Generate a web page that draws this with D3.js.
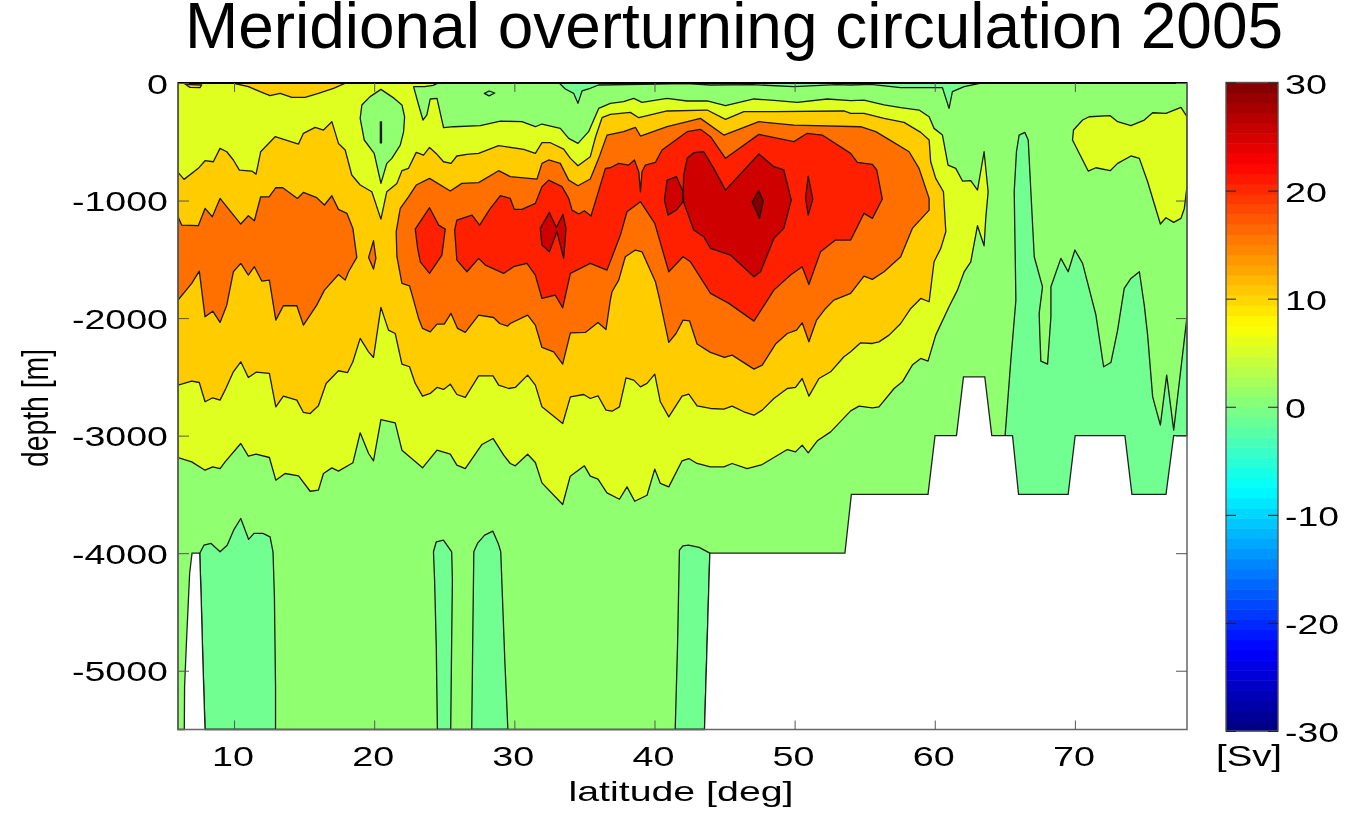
<!DOCTYPE html>
<html lang="en">
<head>
<meta charset="UTF-8">
<title>Meridional overturning circulation 2005</title>
<script src="https://d3js.org/d3.v7.min.js"></script>
<style>
  html, body { margin: 0; background: #fff; }
  svg { filter: blur(0.45px); }
  text { font-family: "Liberation Sans", Arial, sans-serif; fill: #000; }
</style>
</head>
<body>
<div id="chart"></div>
<script>
// every contour is [latitude in deg, depth in m]
var ocean = [[6,0],[78,0],[78,3000],[77.05,3000],[76.5,3500],[74.07,3500],[73.57,3000],[70.02,3000],[69.52,3500],[65.98,3500],[65.55,3000],[64.07,3000],[63.57,2500],[62.05,2500],[61.55,3000],[60.02,3000],[59.52,3500],[54.05,3500],[53.59,4000],[43.95,4000],[43.57,5500],[7.93,5500],[7.78,4939],[7.65,4371],[7.55,4000],[7,4000],[6.83,4173],[6.6,4768],[6.47,5137],[6.45,5500],[6,5500]];

// -5 Sv
var neg5Top = [[33.2,0],[33.64,51],[34.23,88],[34.54,173],[34.83,68],[35.3,51],[36,17],[42.3,6],[44,17],[47,14],[49.95,31],[53,14],[54,17],[55.43,11],[57.57,40],[59.7,40],[60.55,40],[61.02,216],[61.26,74],[62.1,31],[63.29,0]];
var neg5Dot = [[27.86,88],[28.2,68],[28.6,85],[28.2,110]];
var neg5Slit = [[20.44,330],[20.52,330],[20.52,510],[20.44,510]];
var neg5North = [[65.67,925],[65.83,585],[66.02,443],[66.43,420],[66.67,485],[66.86,925],[67.1,1478],[67.69,1734],[67.45,1960],[67.5,2145],[67.57,2366],[68.05,2392],[68.29,1989],[68.29,1734],[69,1492],[69.52,1606],[70,1421],[70.55,1535],[71.5,1974],[72.05,2414],[72.57,2378],[73.05,2102],[73.52,1748],[74,1663],[74.6,1606],[74.95,1890],[75.19,2145],[75.55,2670],[76.1,2911],[76.55,2485],[77.05,2953],[78,1989],[78,3600],[65.02,3600],[65.02,3000],[65.43,2358],[65.79,1847]];
var neg5Deep1 = [[7.55,4000],[7.85,3932],[8.36,3917],[9,3988],[9.51,3932],[9.97,3804],[10.48,3705],[11.04,3883],[11.42,3832],[12.06,3832],[12.57,3861],[12.78,3988],[12.88,4371],[12.96,5137],[12.96,5500],[7.93,5500],[7.78,4939],[7.65,4371]];
var neg5Deep2 = [[24.23,3988],[24.43,3903],[24.94,3889],[25.53,3988],[25.58,4230],[25.51,4939],[25.46,5500],[24.51,5500],[24.43,4797],[24.31,4230]];
var neg5Deep3 = [[27.11,3988],[27.37,3917],[27.88,3847],[28.47,3813],[28.85,3917],[29.03,3988],[29.15,4371],[29.33,4939],[29.54,5500],[26.96,5500],[27.04,4655]];
var neg5Deep4 = [[41.78,3974],[42.04,3937],[42.42,3932],[43.19,3951],[43.95,4000],[43.57,5500],[41.48,5500],[41.65,4768]];

// 5 Sv
var pos5Main = [[6,0],[24.6,0],[24.2,20],[23.6,30],[22.81,31],[23.17,187],[23.48,315],[23.76,272],[24,136],[24.48,131],[24.95,380],[25.67,372],[27.57,363],[29,324],[30.54,329],[31.5,372],[31.97,349],[33.28,386],[33.88,471],[34.54,514],[35.3,414],[36.02,216],[36.85,173],[37.8,159],[38.52,131],[39.11,165],[40.9,131],[42.33,153],[43.76,153],[45.07,193],[47.1,136],[48.52,148],[50.19,165],[52.33,136],[54,150],[54.95,145],[56.38,187],[57.57,210],[58.88,230],[59.6,287],[59.95,386],[60.55,443],[60.95,698],[61.5,726],[61.98,834],[62.57,831],[63.05,911],[63.52,585],[63.81,925],[63.64,1152],[63.52,1385],[63.05,1214],[62.57,1521],[62.1,1606],[61.62,1762],[61.02,1904],[60.07,2145],[59.52,2366],[59,2343],[58.4,2400],[57.69,2542],[57.1,2599],[56.02,2755],[55.55,2763],[54.6,2749],[54,2789],[52.57,2968],[51.62,3044],[50.97,3146],[50.54,3081],[50.07,3138],[49.48,3118],[47.69,3246],[46.61,3280],[45.54,3237],[44.95,3266],[43.99,3266],[43.04,3237],[42.45,3195],[41.97,3214],[41.02,3436],[40.42,3407],[40.02,3285],[39.47,3507],[38.59,3558],[38.04,3436],[37.5,3541],[36.61,3487],[35.97,3370],[35.42,3345],[35,3257],[33.99,3345],[33.45,3586],[31.97,3402],[31.5,3229],[30.95,3158],[30.07,3257],[29.71,3237],[29.24,3166],[28.48,3024],[27.69,3075],[26.5,3280],[25.9,3251],[25.43,3158],[24.48,3124],[23.45,3274],[21.98,3124],[21.5,2891],[20.48,2863],[19.95,3214],[19.6,3152],[19,2976],[18.48,3231],[17.45,3302],[16.98,3274],[16.38,3322],[16.02,3464],[15.43,3473],[14.6,3342],[13.64,3322],[12.98,3379],[12.52,3186],[11.57,3158],[11.02,3175],[10.48,3067],[9.36,3223],[9,3280],[8.48,3265],[7.93,3294],[6.98,3223],[6,3186]];
var pos5North = [[69.9,400],[70.55,315],[71.02,287],[72.52,278],[73.05,329],[74,363],[74.95,315],[75.55,253],[76.5,258],[77.57,207],[78,287],[78,882],[77.81,1067],[77.57,1152],[77.05,1186],[76.5,1146],[76.1,1200],[75.19,840],[74.6,641],[74,621],[73.05,684],[72.52,746],[71.5,721],[70.95,749],[69.83,485]];
// hole of the 5 Sv contour near 20N, back to 0..5 Sv
var pos5Hole = [[20.48,54],[21.43,131],[21.98,187],[22.17,287],[22.1,414],[21.86,528],[21.26,641],[20.9,684],[20.48,854],[20,599],[19.29,485],[19,301],[19.12,187],[19.71,116]];

// 10 Sv
var pos10Main = [[6,760],[6.43,820],[7.45,726],[7.93,661],[8.52,670],[9,556],[9.48,585],[9.95,655],[10.38,741],[11.26,749],[11.57,775],[11.9,585],[12.93,457],[14.6,519],[14.95,428],[15.79,377],[16.38,400],[16.98,329],[17.45,514],[17.93,570],[18.4,783],[19,868],[19.83,925],[20.48,1158],[20.9,925],[21.62,854],[21.98,746],[22.45,726],[23,590],[23.52,613],[23.95,548],[24.48,607],[24.95,670],[25.48,684],[25.9,621],[26.62,607],[27.45,599],[28.88,533],[30.67,565],[31.5,599],[31.97,508],[32.57,508],[33.52,562],[34,641],[34.54,704],[35.42,627],[35.8,457],[36.26,295],[36.85,267],[38.28,250],[38.88,295],[40.9,238],[43.76,230],[45.07,309],[46.38,244],[48.52,244],[53.52,238],[54,258],[54.95,258],[56.38,301],[57.81,335],[59,420],[59.6,485],[59.71,670],[60.07,811],[60.62,925],[60.79,1265],[60.43,1407],[59.95,1521],[59.6,1861],[59,1833],[58.29,1918],[57.57,2046],[56.74,2145],[56.02,2202],[55.55,2216],[54.71,2210],[54,2287],[53.52,2329],[52.57,2457],[51.74,2514],[51.02,2664],[50.54,2514],[50.07,2590],[49.48,2599],[48.52,2684],[47.69,2783],[47.1,2826],[46.38,2797],[45.54,2749],[44.95,2775],[44,2769],[43.04,2746],[42.45,2647],[41.97,2664],[41.02,2840],[40.42,2712],[40.02,2477],[39.47,2556],[39,2585],[38.52,2528],[37.97,2508],[37.5,2755],[36.97,2792],[36.54,2783],[35.97,2661],[35.42,2684],[34.95,2650],[34,2670],[33.45,2897],[31.97,2755],[31.5,2570],[30.95,2485],[30.07,2590],[29.6,2599],[28.88,2570],[28.48,2491],[27.45,2491],[26.5,2675],[25.9,2650],[25.43,2562],[24.95,2607],[24.48,2590],[24,2641],[23.45,2664],[22.93,2556],[22.52,2414],[21.98,2392],[21.5,2131],[21.02,2102],[20.48,1909],[19.95,2335],[19.6,2287],[19,2173],[18.48,2372],[18.1,2463],[17.45,2448],[16.57,2556],[16.02,2746],[15.43,2812],[14.95,2803],[14.48,2698],[13.52,2664],[12.98,2755],[12.52,2471],[11.57,2460],[11.02,2505],[10.48,2372],[9.95,2457],[9.36,2613],[9,2698],[8.48,2678],[7.93,2712],[7.52,2548],[6.98,2536],[6,2570]];
var pos10Surface = [[9.9,0],[11.02,31],[11.86,74],[12.57,108],[13.29,88],[14.12,122],[15.07,122],[16.02,88],[17.1,45],[17.98,0]];
var pos10Corner = [[6.5,11],[6.86,37],[7.57,40],[7.69,17]];

// 15 Sv
var pos15South = [[6,1138],[6.26,1209],[7.45,1214],[7.93,1067],[8.45,1138],[9,982],[10.48,1200],[11.02,1129],[11.45,1172],[11.9,968],[12.5,968],[12.98,891],[13.48,891],[14.52,982],[14.95,931],[15.9,976],[16.45,1038],[16.98,959],[17.45,1075],[18.05,1109],[18.48,1237],[18.76,1484],[18.17,1606],[17.93,1677],[17.45,1629],[16.45,1762],[15.9,1890],[14.95,2060],[14.48,1895],[13.52,1895],[12.98,2017],[12.52,1677],[11.98,1685],[11.45,1563],[11.02,1634],[10.48,1535],[9.95,1606],[9.48,1890],[9,2037],[8.48,1941],[7.93,1989],[7.52,1600],[6.98,1705],[6,1847]];
var pos15Dot = [[19.95,1342],[20.12,1492],[19.95,1583],[19.6,1484]];
var pos15Main = [[21.57,1265],[21.86,1067],[22.45,968],[23,868],[23.95,811],[25.43,919],[26.26,854],[27.45,848],[28.88,746],[29.71,797],[31.62,817],[31.97,684],[32.45,655],[33.28,684],[33.88,826],[34.54,874],[35.42,817],[36.02,641],[36.62,443],[37.8,414],[38.64,377],[39,451],[40.9,372],[43.28,301],[44.95,443],[47.45,329],[49.95,358],[54.71,372],[55.79,414],[56.98,499],[58.17,585],[58.88,726],[59.6,982],[59.6,1081],[58.4,1237],[57.57,1478],[56.38,1606],[55.55,1671],[54.95,1643],[54,1790],[52.8,1847],[52.21,1918],[51.57,2017],[51.02,2202],[50.54,2040],[50.14,2102],[49.48,2131],[48.64,2221],[47.69,2400],[47.1,2434],[45.54,2315],[44.99,2335],[43.99,2292],[43.04,2221],[42.5,2023],[42.04,2017],[41.54,2131],[41.02,2207],[40.38,1847],[40.07,1691],[39.11,1436],[38.64,1421],[37.92,1478],[37.45,1677],[36.97,1776],[36.85,1847],[36.54,2097],[35.97,2037],[35.07,2122],[34,2125],[33.45,2392],[32.81,2287],[31.97,2250],[31.5,2060],[30.95,1975],[29.71,2046],[29.52,2068],[28.95,2046],[28.52,1995],[27.45,1975],[26.5,2122],[25.95,2088],[25.48,1960],[25,2051],[24.48,2051],[24,2117],[23.45,2088],[23.17,2003],[22.81,1847],[22.52,1725],[21.98,1705],[21.62,1478]];

// 20 Sv
var pos20South = [[23.95,1061],[24.6,1209],[25.07,1243],[24.83,1464],[23.95,1620],[23.29,1521],[23.1,1407],[22.93,1243]];
var pos20Main = [[25.74,1251],[25.9,1166],[26.98,1124],[27.52,1209],[28.29,1067],[29,959],[29.71,982],[30,1075],[30.54,1075],[31.5,1024],[31.97,882],[32.45,826],[33.4,882],[33.88,982],[34.12,1081],[34.6,1115],[35,1087],[35.47,1132],[35.78,1010],[36.5,726],[36.85,721],[37.45,684],[38.16,698],[38.57,655],[38.88,755],[39,925],[39.11,755],[39.35,698],[40.07,675],[40.54,570],[42.33,414],[43.28,394],[44,457],[45.07,641],[47.45,437],[49.95,499],[50.9,428],[51.97,443],[54,599],[54.48,675],[55.55,692],[55.86,740],[56.26,987],[55.55,1152],[54.95,1109],[54,1336],[52.92,1336],[51.85,1436],[51.02,1714],[50.54,1563],[49.71,1634],[48.52,1762],[47.1,2026],[45.31,1875],[44,1790],[42.57,1521],[42.04,1478],[41.02,1606],[40.02,1194],[39,1010],[38.04,1095],[37.57,1294],[36.61,1592],[35.42,1535],[34,1620],[33.45,1912],[32.92,1804],[31.97,1833],[31.5,1634],[30.9,1535],[29.95,1563],[29.24,1620],[27.93,1549],[27.45,1492],[26.62,1606],[25.9,1507]];

// 25 Sv
var pos25West = [[32.5,1101],[33,1229],[33.47,1118],[33.69,1237],[33.52,1492],[33.04,1265],[32.5,1436],[31.97,1379],[31.85,1237]];
var pos25Lobe = [[40.9,826],[41.57,797],[42.04,925],[42,1016],[41.57,1081],[40.97,1124],[40.71,996]];
var pos25Heart = [[42.09,783],[42.33,641],[42.8,593],[43.52,585],[44.23,726],[45.07,911],[47.45,604],[48.52,712],[49.23,740],[49.76,996],[49.23,1237],[48.52,1322],[47.57,1606],[47.1,1648],[45.42,1464],[44,1407],[43.52,1308],[42.8,1251],[42.09,1016],[42.04,925]];
var pos25East = [[50.97,792],[51.3,987],[50.97,1124],[50.78,982]];

// 30 Sv
var pos30Core = [[47.45,916],[47.76,1004],[47.5,1152],[46.97,1010]];

var latTicks = [10, 20, 30, 40, 50, 60, 70];
var depthTicks = [0, 1000, 2000, 3000, 4000, 5000];
var colorTicks = [30, 20, 10, 0, -10, -20, -30];

var fillNeg5 = '#70ff90', fill0 = '#90ff70', fill5 = '#dfff20', fill10 = '#ffcc00',
    fill15 = '#ff7000', fill20 = '#ff2000', fill25 = '#cf0000', fill30 = '#800000';

// painted back to front, each level over the one before
var layers = [
  [neg5Top, fillNeg5], [neg5Dot, fillNeg5], [neg5North, fillNeg5], [neg5Deep1, fillNeg5],
  [neg5Deep2, fillNeg5], [neg5Deep3, fillNeg5], [neg5Deep4, fillNeg5],
  [pos5Main, fill5], [pos5North, fill5], [pos5Hole, fill0], [neg5Slit, fillNeg5],
  [pos10Main, fill10], [pos10Surface, fill10], [pos10Corner, fill10],
  [pos15South, fill15], [pos15Dot, fill15], [pos15Main, fill15],
  [pos20South, fill20], [pos20Main, fill20],
  [pos25West, fill25], [pos25Lobe, fill25], [pos25Heart, fill25], [pos25East, fill25],
  [pos30Core, fill30]
];

var width = 1370, height = 816;
var plotLeft = 178, plotRight = 1187, plotTop = 83, plotBottom = 729.5;

var svg = d3.select('#chart').append('svg')
  .attr('width', width).attr('height', height)
  .style('display', 'block');

var x = d3.scaleLinear().domain([6, 78]).range([plotLeft, plotRight]);
var y = d3.scaleLinear().domain([0, 5500]).range([plotTop, plotBottom]);

var contour = d3.line()
  .x(function(d) { return x(d[0]); })
  .y(function(d) { return y(d[1]); })
  .curve(d3.curveLinearClosed);

svg.append('clipPath').attr('id', 'sea')
  .append('path').attr('d', contour(ocean));

svg.append('path').attr('d', contour(ocean)).attr('fill', fill0);

var plot = svg.append('g').attr('clip-path', 'url(#sea)');
plot.selectAll('path').data(layers).enter().append('path')
  .attr('d', function(d) { return contour(d[0]); })
  .attr('fill', function(d) { return d[1]; })
  .attr('stroke', '#1a1a10')
  .attr('stroke-width', 1.3)
  .attr('stroke-linejoin', 'round');

svg.append('path').attr('d', contour(ocean))
  .attr('fill', 'none').attr('stroke', '#222').attr('stroke-width', 1.3);

// box, ticks on all four sides like matlab
svg.append('rect').attr('x', plotLeft).attr('y', plotTop)
  .attr('width', plotRight - plotLeft).attr('height', plotBottom - plotTop)
  .attr('fill', 'none').attr('stroke', '#666').attr('stroke-width', 1.5);
svg.append('line').attr('x1', plotLeft).attr('x2', plotRight)
  .attr('y1', plotTop).attr('y2', plotTop)
  .attr('stroke', '#000').attr('stroke-width', 2);

var axisBottom = svg.append('g').attr('transform', 'translate(0,' + plotBottom + ')')
  .call(d3.axisBottom(x).tickValues(latTicks).tickSize(-9).tickPadding(17));
var axisTop = svg.append('g').attr('transform', 'translate(0,' + plotTop + ')')
  .call(d3.axisTop(x).tickValues(latTicks).tickSize(-9).tickFormat(''));
var axisLeft = svg.append('g').attr('transform', 'translate(' + plotLeft + ',0)')
  .call(d3.axisLeft(y).tickValues(depthTicks).tickSize(-11).tickPadding(10)
    .tickFormat(function(d) { return d === 0 ? '0' : '-' + d; }));
var axisRight = svg.append('g').attr('transform', 'translate(' + plotRight + ',0)')
  .call(d3.axisRight(y).tickValues(depthTicks).tickSize(-11).tickFormat(''));

[axisBottom, axisTop, axisLeft, axisRight].forEach(function(a) {
  a.select('.domain').remove();
  a.selectAll('line').attr('stroke', '#555');
});

// the labels in the picture are stretched sideways
function stretchLabels(sel) {
  sel.selectAll('text')
    .style('font-size', '28px')
    .attr('textLength', function() {
      var s = this.textContent;
      return s.replace('-', '').length * 21 + (s.charAt(0) === '-' ? 12 : 0);
    })
    .attr('lengthAdjust', 'spacingAndGlyphs');
}
axisBottom.selectAll('text').attr('dx', -1.5);
stretchLabels(axisBottom);
stretchLabels(axisLeft);
axisLeft.selectAll('text').attr('dy', '0.36em');

// colorbar, 64 steps of jet
var barLeft = 1226, barRight = 1278, barTop = 82.5, barBottom = 731;
var colorY = d3.scaleLinear().domain([30, -30]).range([barTop, barBottom]);
var steps = d3.range(64);

function jet(i) {
  var t = (i + 0.5) / 64;
  var c = function(o) { return Math.max(0, Math.min(1, 1.5 - Math.abs(4 * t - o))) * 255; };
  return d3.rgb(c(3), c(2), c(1));
}

var stepValue = d3.scaleLinear().domain([0, 64]).range([-30, 30]);
svg.append('g').selectAll('rect').data(steps).enter().append('rect')
  .attr('x', barLeft).attr('width', barRight - barLeft)
  .attr('y', function(i) { return colorY(stepValue(i + 1)); })
  .attr('height', function(i) { return colorY(stepValue(i)) - colorY(stepValue(i + 1)) + 0.5; })
  .attr('fill', function(i) { return jet(i); });

svg.append('rect').attr('x', barLeft).attr('y', barTop)
  .attr('width', barRight - barLeft).attr('height', barBottom - barTop)
  .attr('fill', 'none').attr('stroke', '#555').attr('stroke-width', 1.4);

var barAxisRight = svg.append('g').attr('transform', 'translate(' + barRight + ',0)')
  .call(d3.axisRight(colorY).tickValues(colorTicks).tickSize(-10).tickPadding(7)
    .tickFormat(function(d) { return String(d); }));
var barAxisLeft = svg.append('g').attr('transform', 'translate(' + barLeft + ',0)')
  .call(d3.axisLeft(colorY).tickValues(colorTicks).tickSize(-10).tickFormat(''));
[barAxisRight, barAxisLeft].forEach(function(a) {
  a.select('.domain').remove();
  a.selectAll('line').attr('stroke', '#222');
});
stretchLabels(barAxisRight);
barAxisRight.selectAll('text').attr('dy', '0.38em');

svg.append('text').attr('x', 734).attr('y', 48)
  .attr('text-anchor', 'middle')
  .attr('textLength', 1098).attr('lengthAdjust', 'spacingAndGlyphs')
  .style('font-size', '65px')
  .text('Meridional overturning circulation 2005');

svg.append('text').attr('x', 681).attr('y', 801)
  .attr('text-anchor', 'middle')
  .attr('textLength', 225).attr('lengthAdjust', 'spacingAndGlyphs')
  .style('font-size', '28px')
  .text('latitude [deg]');

svg.append('text').attr('x', 1249).attr('y', 766)
  .attr('text-anchor', 'middle')
  .attr('textLength', 66).attr('lengthAdjust', 'spacingAndGlyphs')
  .style('font-size', '30px')
  .text('[Sv]');

svg.append('text')
  .attr('transform', 'translate(48,408) rotate(-90)')
  .attr('text-anchor', 'middle')
  .attr('textLength', 118).attr('lengthAdjust', 'spacingAndGlyphs')
  .style('font-size', '36px')
  .text('depth [m]');
</script>
</body>
</html>
